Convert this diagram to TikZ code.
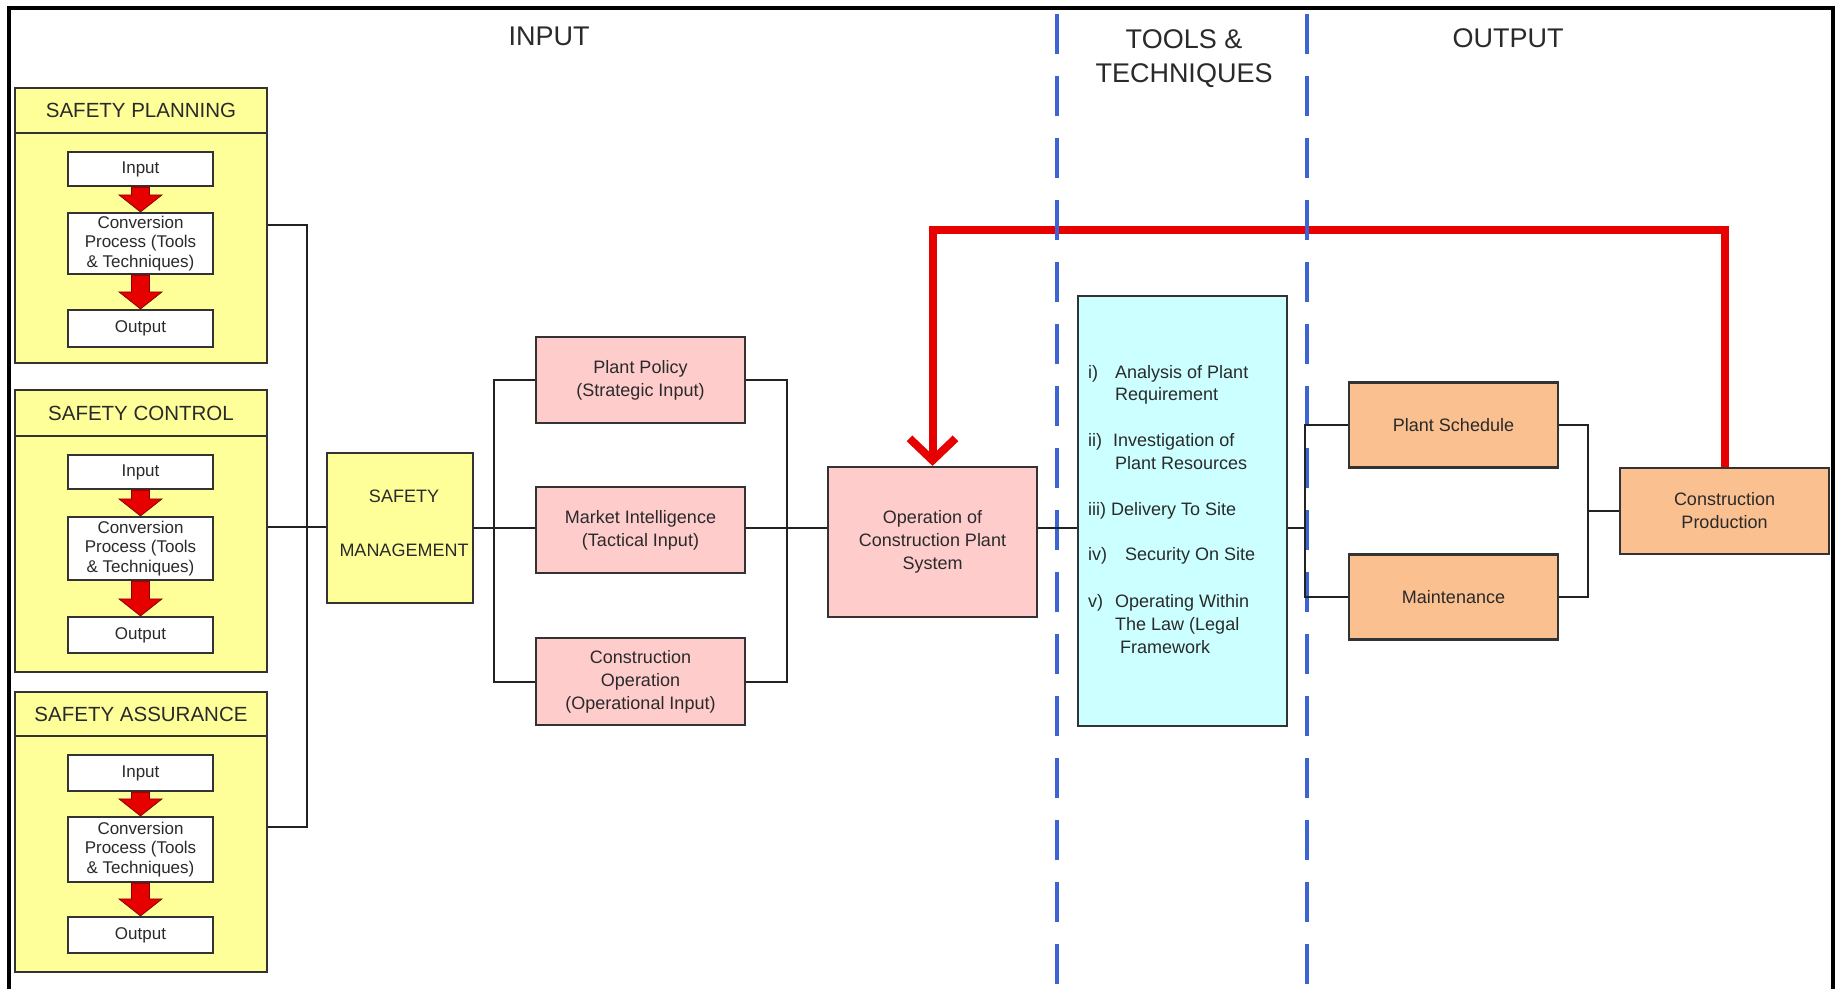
\documentclass[tikz,border=0pt]{standalone}
\usepackage{fontspec}
\setmainfont{Liberation Sans}
\usetikzlibrary{arrows.meta,calc}
\definecolor{yfill}{HTML}{FFFF99}
\definecolor{pfill}{HTML}{FFCCCC}
\definecolor{cfill}{HTML}{CCFFFF}
\definecolor{ofill}{HTML}{FAC090}
\definecolor{boxline}{HTML}{333333}
\definecolor{connc}{HTML}{222222}
\definecolor{txt}{HTML}{2A2A2A}
\definecolor{redc}{HTML}{E60000}
\definecolor{darkred}{HTML}{8A0000}
\definecolor{bluec}{HTML}{3C64D2}
\tikzset{
 frame/.style={draw=boxline, line width=2.2pt},
 ybox/.style={frame, fill=yfill, inner sep=0pt},
 wbox/.style={frame, fill=white, minimum width=145pt, inner sep=0pt, align=center, font=\fontsize{17}{19.5}\selectfont, text=txt},
 pbox/.style={frame, fill=pfill, minimum width=209pt, inner sep=0pt, align=center, font=\fontsize{18}{23}\selectfont, text=txt},
 obox/.style={frame, fill=ofill, inner sep=0pt, align=center, font=\fontsize{18}{23}\selectfont, text=txt},
 conn/.style={draw=connc, line width=2pt},
 redline/.style={draw=redc, line width=8pt},
 bdash/.style={draw=bluec, line width=4pt, dash pattern=on 40pt off 22pt},
 hdr/.style={font=\fontsize{27}{34}\selectfont, text=txt, align=center, inner sep=0pt},
 shdr/.style={font=\fontsize{20.5}{24}\selectfont, text=txt, inner sep=0pt},
 item/.style={anchor=base west, font=\fontsize{18}{23}\selectfont, text=txt, inner sep=0pt},
 blk/.style={fill=redc, draw=darkred, line width=0.8pt},
}
\newcommand\blkarrow[2]{\path[blk] ($(#1)+(-9,0)$) -- ($(#2)+(-9,-17)$) -- ($(#2)+(-21.5,-17)$) -- (#2) -- ($(#2)+(21.5,-17)$) -- ($(#2)+(9,-17)$) -- ($(#1)+(9,0)$) -- cycle;}
\begin{document}
\begin{tikzpicture}[x=1pt,y=-1pt]
\useasboundingbox (0,0) rectangle (1843,989);
\fill[white] (0,0) rectangle (1843,989);
% outer frame
\draw[line width=3.5pt, black] (9,989) -- (9,8) -- (1833,8) -- (1833,989);

% headers
\node[hdr] (hin) at (549,36) {INPUT};
\node[hdr] (htt) at (1184,59) {TOOLS \&\\TECHNIQUES};
\node[hdr] (hout) at (1508,38) {OUTPUT};

% safety boxes
\node[ybox, minimum width=252pt, minimum height=275pt] (sp) at (141,225.5) {};
\node[ybox, minimum width=252pt, minimum height=282pt] (sc) at (141,531) {};
\node[ybox, minimum width=252pt, minimum height=280pt] (sa) at (141,832) {};
\draw[frame] (sp.west |- 0,133) -- (sp.east |- 0,133);
\draw[frame] (sc.west |- 0,436) -- (sc.east |- 0,436);
\draw[frame] (sa.west |- 0,736) -- (sa.east |- 0,736);
\node[shdr] (sph) at (141,110.5) {SAFETY PLANNING};
\node[shdr] (sch) at (141,413) {SAFETY CONTROL};
\node[shdr] (sah) at (141,714) {SAFETY ASSURANCE};

\node[wbox, minimum height=34pt] (in1) at (140.5,169) {Input};
\node[wbox, minimum height=61pt] (cv1) at (140.5,243.5) {Conversion\\Process (Tools\\\& Techniques)};
\node[wbox, minimum height=37pt] (out1) at (140.5,328.5) {Output};
\node[wbox, minimum height=34pt] (in2) at (140.5,472) {Input};
\node[wbox, minimum height=63pt] (cv2) at (140.5,548.5) {Conversion\\Process (Tools\\\& Techniques)};
\node[wbox, minimum height=36pt] (out2) at (140.5,635) {Output};
\node[wbox, minimum height=36pt] (in3) at (140.5,773) {Input};
\node[wbox, minimum height=65pt] (cv3) at (140.5,849.5) {Conversion\\Process (Tools\\\& Techniques)};
\node[wbox, minimum height=36pt] (out3) at (140.5,935) {Output};
\blkarrow{in1.south}{cv1.north}
\blkarrow{cv1.south}{out1.north}
\blkarrow{in2.south}{cv2.north}
\blkarrow{cv2.south}{out2.north}
\blkarrow{in3.south}{cv3.north}
\blkarrow{cv3.south}{out3.north}

% safety management
\node[ybox, minimum width=146pt, minimum height=150pt] (sm) at (400,528) {};
\node[align=center, font=\fontsize{18}{22}\selectfont, text=txt, inner sep=0pt] (smt) at (404,523) {SAFETY\\[32pt]MANAGEMENT};

% pink boxes
\node[pbox, minimum height=86pt] (pp) at (640.5,380) {Plant Policy\\(Strategic Input)};
\node[pbox, minimum height=86pt] (mi) at (640.5,530) {Market Intelligence\\(Tactical Input)};
\node[pbox, minimum height=87pt] (co) at (640.5,681.5) {Construction\\Operation\\(Operational Input)};
\node[pbox, minimum height=150pt] (op) at (932.5,542) {Operation of\\Construction Plant\\System};

% cyan box
\node[frame, fill=cfill, minimum width=209pt, minimum height=430pt, inner sep=0pt] (cy) at (1182.5,511) {};
\node[item] (l1) at (1088,378) {i)};
\node[item] (t1) at (1115,378) {Analysis of Plant};
\node[item] (t2) at (1115,400) {Requirement};
\node[item] (l2) at (1088,446) {ii)};
\node[item] (t3) at (1113,446) {Investigation of};
\node[item] (t4) at (1115,469) {Plant Resources};
\node[item] (t5) at (1088,515) {iii) Delivery To Site};
\node[item] (l4) at (1088,560) {iv)};
\node[item] (t6) at (1125,560) {Security On Site};
\node[item] (l5) at (1088,607) {v)};
\node[item] (t7) at (1115,607) {Operating Within};
\node[item] (t8) at (1115,630) {The Law (Legal};
\node[item] (t9) at (1120,653) {Framework};

% orange boxes
\node[obox, minimum width=209pt, minimum height=85pt] (ps) at (1453.5,425) {Plant Schedule};
\node[obox, minimum width=209pt, minimum height=85pt] (mt) at (1453.5,597) {Maintenance};
\node[obox, minimum width=209pt, minimum height=86pt] (cp) at (1724.5,511) {Construction\\Production};

% junction coordinates
\coordinate (vtop) at (307,225);
\coordinate (vmid) at (307,527);
\coordinate (vbot) at (307,827);
\coordinate (jL) at (494,528);
\coordinate (jR) at (787,528);
\coordinate (jO) at (1305,528);
\coordinate (jM) at (1588,511);
\coordinate (rtop) at (0,230);

% red feedback
\draw[redline, -{Straight Barb[length=22pt,width=46pt]}] (cp.north) -- (cp.north |- rtop) -- (op.north |- rtop) -- (op.north);

% blue dashed separators
\draw[bdash] (1057,14) -- (1057,985);
\draw[bdash] (1307,14) -- (1307,985);

% connectors
\draw[conn] (sp.east |- vtop) -- (vtop) -- (vbot) -- (sa.east |- vbot);
\draw[conn] (sc.east |- vmid) -- (sm.west |- vmid);
\draw[conn] (sm.east) -- (mi.west |- sm.east);
\draw[conn] (pp.west) -- (pp.west -| jL) -- (co.west -| jL) -- (co.west);
\draw[conn] (pp.east) -- (pp.east -| jR) -- (co.east -| jR) -- (co.east);
\draw[conn] (mi.east |- jR) -- (op.west |- jR);
\draw[conn] (op.east |- jR) -- (cy.west |- jR);
\draw[conn] (cy.east |- jO) -- (jO);
\draw[conn] (ps.west) -- (ps.west -| jO) -- (mt.west -| jO) -- (mt.west);
\draw[conn] (ps.east) -- (ps.east -| jM) -- (mt.east -| jM) -- (mt.east);
\draw[conn] (jM |- cp.west) -- (cp.west);
\end{tikzpicture}
\end{document}
